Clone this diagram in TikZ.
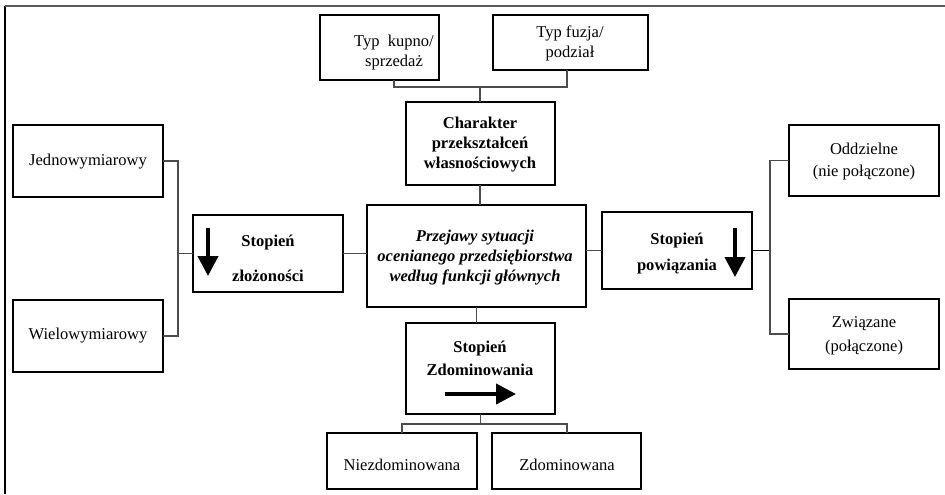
\documentclass[tikz,border=0pt]{standalone}
\usepackage{fontspec}
\setmainfont{Liberation Serif}
\usetikzlibrary{arrows.meta}
\tikzset{
  box/.style={draw=black, line width=0.9pt, rectangle, inner sep=0pt, outer sep=0pt},
  txt/.style={align=center, inner sep=0pt, font=\fontsize{12.4}{15}\selectfont},
  btxt/.style={txt, font=\fontsize{12.4}{15}\selectfont\bfseries},
  conn/.style={draw=black!70, line width=0.8pt},
  bigarrow/.style={line width=3pt, -{Triangle[length=15pt,width=15pt]}},
  frame/.style={line width=1.5pt}
}
\begin{document}
\begin{tikzpicture}[x=0.75pt,y=-0.75pt]
\useasboundingbox (0,0) rectangle (945,494);
% frame (top and left only)
\coordinate (f0) at (5,494);
\coordinate (f1) at (5,6);
\coordinate (f2) at (945,6);
\draw[frame, draw=black] (f0) -- (f1);
\draw[frame, draw=black!65] (f1) -- (f2);

% boxes
\node[box, minimum width=119*0.75pt, minimum height=65*0.75pt] (kupno) at (379.5,47.5) {};
\node[box, minimum width=155*0.75pt, minimum height=55*0.75pt] (fuzja) at (570.5,42.5) {};
\node[box, minimum width=149*0.75pt, minimum height=83*0.75pt] (char) at (480.5,143.5) {};
\node[box, minimum width=219*0.75pt, minimum height=102*0.75pt] (center) at (476.5,256) {};
\node[box, minimum width=149*0.75pt, minimum height=91*0.75pt] (zdom) at (480.5,368.5) {};
\node[box, minimum width=150*0.75pt, minimum height=56*0.75pt] (niez) at (402,461) {};
\node[box, minimum width=149*0.75pt, minimum height=56*0.75pt] (zd) at (566.5,461) {};
\node[box, minimum width=150*0.75pt, minimum height=72*0.75pt] (jedno) at (88,161) {};
\node[box, minimum width=150*0.75pt, minimum height=72*0.75pt] (wielo) at (88,336) {};
\node[box, minimum width=150*0.75pt, minimum height=77*0.75pt] (zloz) at (268,253.5) {};
\node[box, minimum width=150*0.75pt, minimum height=77*0.75pt] (pow) at (677,250.5) {};
\node[box, minimum width=150*0.75pt, minimum height=71*0.75pt] (odd) at (864,160.5) {};
\node[box, minimum width=150*0.75pt, minimum height=70*0.75pt] (zw) at (864,334) {};

% texts
\node[txt] (tkupno) at (394,52.5) {Typ\ \ kupno/\\sprzedaż};
\node[txt] (tfuzja) at (570,43) {Typ fuzja/\\podział};
\node[btxt] (tchar) at (480,145) {Charakter\\przekształceń\\własnościowych};
\node[txt, font=\fontsize{12.4}{15}\selectfont\bfseries\itshape] (tcenter) at (475,257.5) {Przejawy sytuacji\\ocenianego przedsiębiorstwa\\według funkcji głównych};
\node[btxt] (tzdom) at (480,358.5) {Stopień\\[2pt]Zdominowania};
\node[txt] (tniez) at (402,465) {Niezdominowana};
\node[txt] (tzd) at (567,465) {Zdominowana};
\node[txt] (tjedno) at (88,162) {Jednowymiarowy};
\node[txt] (twielo) at (88,336) {Wielowymiarowy};
\node[btxt] (tzloz) at (268,258.5) {Stopień\\[11pt]złożoności};
\node[btxt] (tpow) at (677,253.5) {Stopień\\[5pt]powiązania};
\node[txt] (todd) at (864,161.5) {Oddzielne\\[2pt](nie połączone)};
\node[txt] (tzw) at (864,335.5) {Związane\\[3pt](połączone)};

% connectors top
\coordinate (k1) at (394,87);
\coordinate (k2) at (567,87);
\draw[conn] (kupno.south -| k1) -- (k1) -- (k2) -- (fuzja.south -| k2);
\draw[conn] (char.north -| 480,0) -- (480,87);
\draw[conn] (char.south -| 480,0) -- (center.north -| 480,0);
% connectors bottom
\draw[conn] (center.south) -- (center.south |- zdom.north);
\coordinate (b1) at (402,424);
\coordinate (b2) at (567,424);
\draw[conn] (niez.north) -- (b1) -- (b2) -- (zd.north -| b2);
\draw[conn] (zdom.south) -- (zdom.south |- b1);
% left connectors
\coordinate (l) at (178,253.5);
\draw[conn] (jedno.east) -| (l) |- (wielo.east);
\draw[conn] (l) -- (zloz.west);
\draw[conn] (zloz.east) -- (zloz.east -| center.west);
% right connectors
\draw[conn] (pow.west -| center.east) -- (pow.west);
\coordinate (r) at (770,250.5);
\draw[line width=1.3pt] (pow.east) -- (r);
\draw[conn] (odd.west) -| (r) |- (zw.west);

% arrows in boxes
\coordinate (a1s) at (208,228);
\coordinate (a1e) at (208,276);
\draw[bigarrow] (a1s) -- (a1e);
\coordinate (a2s) at (735,228);
\coordinate (a2e) at (735,277);
\draw[bigarrow] (a2s) -- (a2e);
\coordinate (a3s) at (445,394);
\coordinate (a3e) at (516,394);
\draw[bigarrow] (a3s) -- (a3e);
\end{tikzpicture}
\end{document}
